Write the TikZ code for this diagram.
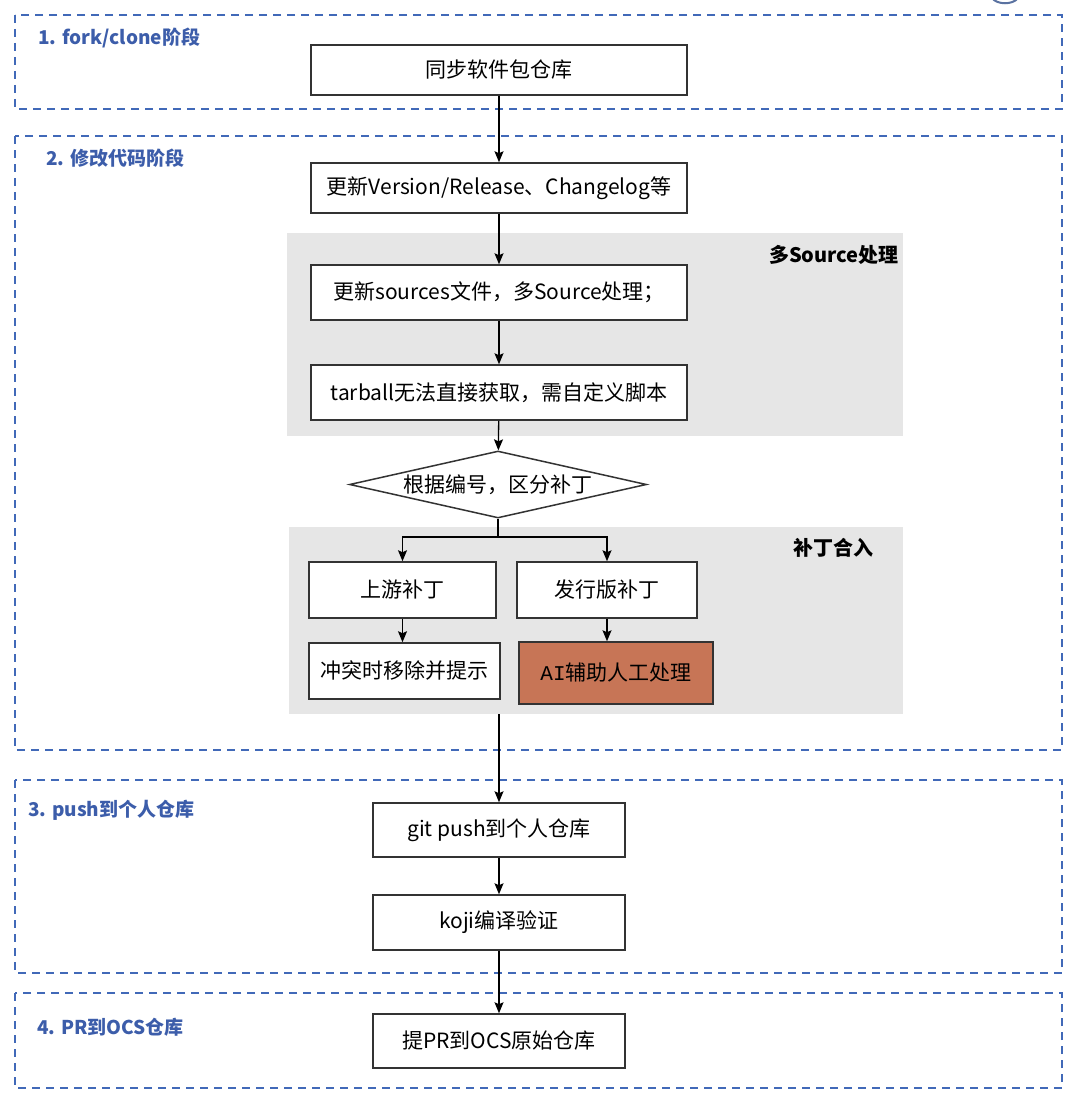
\documentclass[tikz,border=0pt]{standalone}
\usepackage{fontspec}
\setmainfont{Noto Sans CJK SC}
\newfontfamily\monof{Liberation Mono}
\usetikzlibrary{arrows.meta,shapes.geometric}
\definecolor{stageblue}{HTML}{3C5DAA}
\definecolor{dashblue}{HTML}{4169B8}
\definecolor{regiongray}{HTML}{E6E6E6}
\definecolor{aifill}{HTML}{C77556}
\definecolor{boxline}{HTML}{333333}
\tikzset{
  stagebox/.style={draw=dashblue, line width=2.6pt, dash pattern=on 8pt off 6pt},
  stagelabel/.style={text=stageblue, font=\bfseries\fontsize{19}{22}\selectfont, anchor=west, inner sep=0pt},
  region/.style={fill=regiongray, draw=none},
  regionlabel/.style={font=\bfseries\fontsize{20}{23}\selectfont, anchor=east, inner sep=0pt},
  stepbox/.style={draw=boxline, line width=1.5pt, fill=white, inner sep=0pt, font=\fontsize{21}{24}\selectfont},
  decision/.style={diamond, aspect=4.4, draw=boxline, line width=1.5pt, fill=white, inner sep=0pt, font=\fontsize{21}{24}\selectfont},
  flow/.style={line width=1.3pt, -{Stealth[length=11pt,width=9pt,inset=2pt]}},
  plain/.style={line width=1.3pt}
}
\begin{document}
\begin{tikzpicture}[x=1pt,y=-1pt]
\useasboundingbox (0,0) rectangle (1072,1097);
\fill[white] (0,0) rectangle (1072,1097);
% partial shape cut by the top edge
\draw[dashblue!60!gray, line width=2pt] (992,-2) .. controls (997,5) and (1013,5) .. (1018,-2);

% stage frames
\draw[stagebox] (15,15) rectangle (1062,109);
\draw[stagebox] (15,136) rectangle (1062,750);
\draw[stagebox] (15,780) rectangle (1062,973);
\draw[stagebox] (15,993) rectangle (1062,1088);

\node[stagelabel] (l1) at (38,38) {1. fork/clone阶段};
\node[stagelabel] (l2) at (46,158) {2. 修改代码阶段};
\node[stagelabel] (l3) at (28,810) {3. push到个人仓库};
\node[stagelabel] (l4) at (37,1027) {4. PR到OCS仓库};

% gray regions
\node[region, minimum width=616pt, minimum height=203pt, inner sep=0pt] (g1) at (595,334.5) {};
\node[region, minimum width=614pt, minimum height=187pt, inner sep=0pt] (g2) at (596,620.5) {};
\node[regionlabel] (r1) at (899,255) {多Source处理};
\node[regionlabel] (r2) at (874,548) {补丁合入};

% steps
\node[stepbox, minimum width=376pt, minimum height=50pt] (n1) at (499,70) {同步软件包仓库};
\node[stepbox, minimum width=376pt, minimum height=50pt] (n2) at (499,188) {更新Version/Release、Changelog等};
\node[stepbox, minimum width=376pt, minimum height=55pt] (n3) at (499,292.5) {更新sources文件，多Source处理；};
\node[stepbox, minimum width=376pt, minimum height=55pt] (n4) at (499,392.5) {tarball无法直接获取，需自定义脚本};
\node[decision, minimum width=297pt, minimum height=67pt] (d1) at (498,484.5) {根据编号，区分补丁};
\node[stepbox, minimum width=187pt, minimum height=56pt] (n5) at (402.5,590) {上游补丁};
\node[stepbox, minimum width=180pt, minimum height=56pt] (n6) at (607,590) {发行版补丁};
\node[stepbox, minimum width=191pt, minimum height=56pt] (n7) at (404.5,671) {冲突时移除并提示};
\node[stepbox, fill=aifill, minimum width=194pt, minimum height=62pt] (n8) at (616,673) {{\monof AI}辅助人工处理};
\node[stepbox, minimum width=252pt, minimum height=54pt] (n9) at (499,830) {git push到个人仓库};
\node[stepbox, minimum width=252pt, minimum height=55pt] (n10) at (499,922.5) {koji编译验证};
\node[stepbox, minimum width=252pt, minimum height=54pt] (n11) at (499,1041) {提PR到OCS原始仓库};

% connectors
\draw[flow] (n1) -- (n2);
\draw[flow] (n2) -- (n3);
\draw[flow] (n3) -- (n4);
\draw[flow] (n4) -- (d1);
\coordinate (split) at (498,537);
\draw[plain] (d1.south) -- (split);
\draw[flow] (split) -| (n5.north);
\draw[flow] (split) -| (n6.north);
\draw[flow] (n5.south) -- (n5.south |- n7.north);
\draw[flow] (n6.south) -- (n6.south |- n8.north);
\coordinate (merge) at (499,714);
\draw[flow] (merge) -- (n9.north);
\draw[flow] (n9) -- (n10);
\draw[flow] (n10) -- (n11);
\end{tikzpicture}
\end{document}
